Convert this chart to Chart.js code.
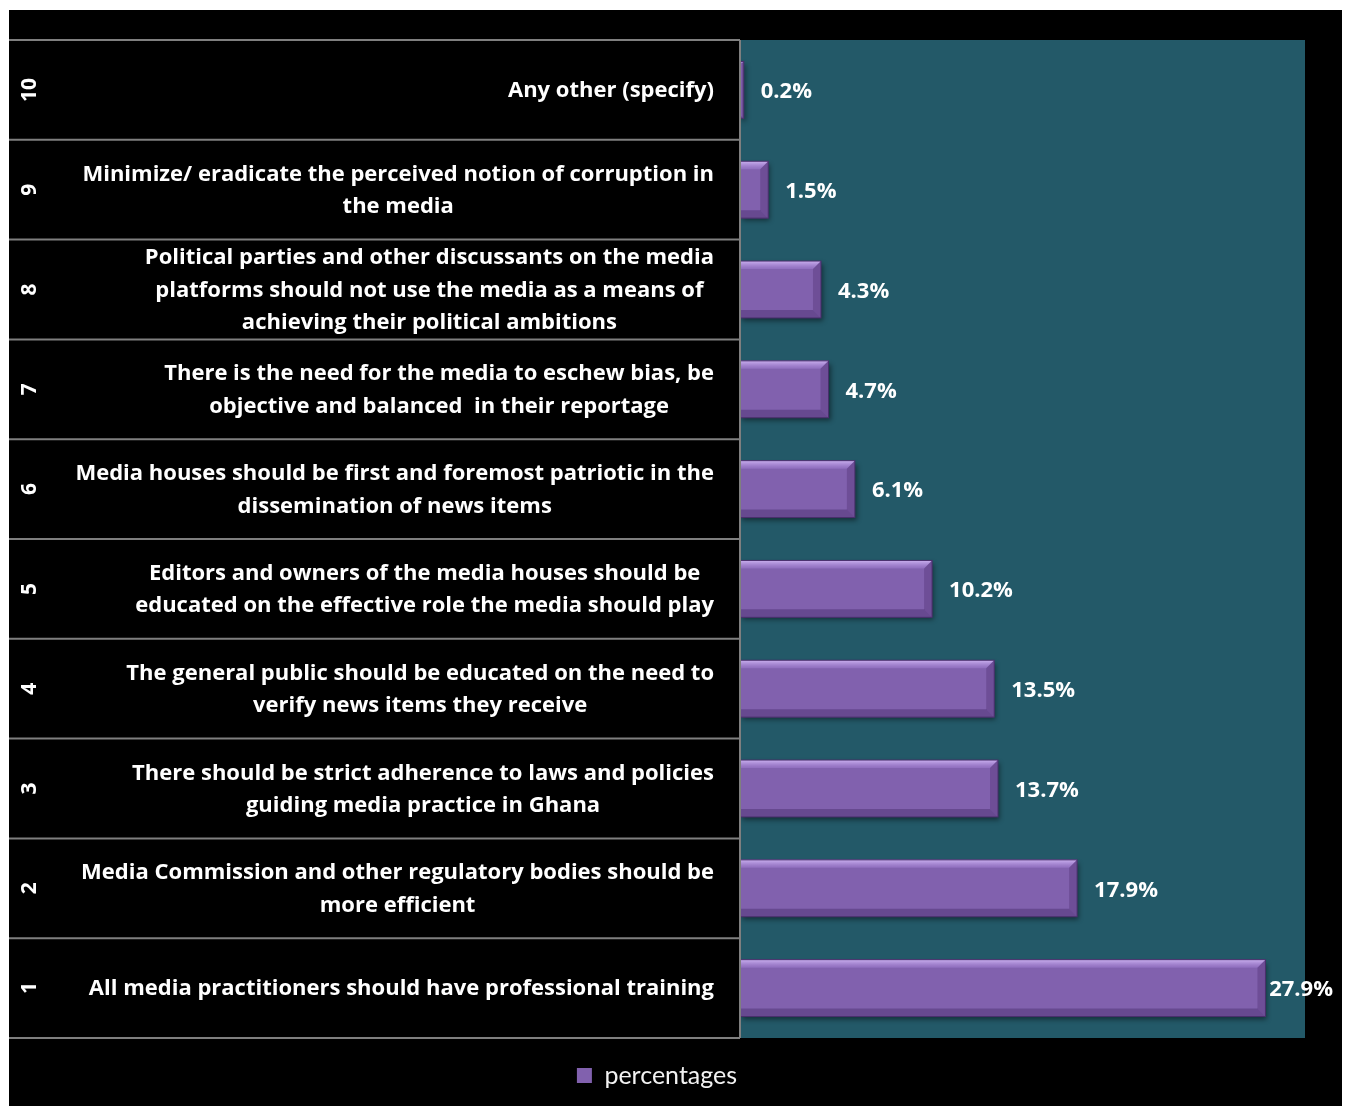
<!DOCTYPE html>
<html>
<head>
<meta charset="utf-8">
<title>percentages</title>
<script src="https://cdn.jsdelivr.net/npm/chart.js@4/dist/chart.umd.min.js"></script>
<style>
  html, body { margin: 0; padding: 0; background: #ffffff; }
  #wrap { position: absolute; left: 9px; top: 10px; width: 1333px; height: 1096px; background: #000000; }
</style>
</head>
<body>
<div id="wrap"><canvas id="suggestChart"></canvas></div>
<script>
// item numbers, bottom to top
const itemNos = ['1', '2', '3', '4', '5', '6', '7', '8', '9', '10'];
// suggestion text, one array entry per printed line
const suggestions = [
  ['All media practitioners should have professional training'],
  ['Media Commission and other regulatory bodies should be', 'more efficient'],
  ['There should be strict adherence to laws and policies', 'guiding media practice in Ghana'],
  ['The general public should be educated on the need to', 'verify news items they receive'],
  ['Editors and owners of the media houses should be', 'educated on the effective role the media should play'],
  ['Media houses should be first and foremost patriotic in the', 'dissemination of news items'],
  ['There is the need for the media to eschew bias, be', 'objective and balanced  in their reportage'],
  ['Political parties and other discussants on the media', 'platforms should not use the media as a means of', 'achieving their political ambitions'],
  ['Minimize/ eradicate the perceived notion of corruption in', 'the media'],
  ['Any other (specify)']
];
const percentages = [27.9, 17.9, 13.7, 13.5, 10.2, 6.1, 4.7, 4.3, 1.5, 0.2];

const FONT = '"Open Sans", "DejaVu Sans", sans-serif';

// teal plot background + label table lines + item numbers
const tablePlugin = {
  id: 'tablePlugin',
  beforeDraw(chart) {
    const { ctx, chartArea: a } = chart;
    ctx.save();
    ctx.fillStyle = '#235968';
    ctx.fillRect(a.left, a.top, a.right - a.left, a.bottom - a.top);
    ctx.restore();
  },
  afterDraw(chart) {
    const { ctx, chartArea: a, scales: { y } } = chart;
    ctx.save();
    // row separators in the label table
    ctx.strokeStyle = '#7f7f7f';
    ctx.lineWidth = 2;
    const step = Math.abs(y.getPixelForValue(0) - y.getPixelForValue(1));
    for (let i = 0; i < itemNos.length; i++) {
      const yy = y.getPixelForValue(i) - step / 2;
      ctx.beginPath(); ctx.moveTo(0, yy); ctx.lineTo(a.left, yy); ctx.stroke();
    }
    ctx.beginPath(); ctx.moveTo(0, a.bottom); ctx.lineTo(a.left, a.bottom); ctx.stroke();
    ctx.beginPath(); ctx.moveTo(a.left, a.top); ctx.lineTo(a.left, a.bottom); ctx.stroke();

    // suggestion text, lines centred in a right-aligned block
    ctx.fillStyle = '#ffffff';
    ctx.font = 'bold 22px ' + FONT;
    ctx.textBaseline = 'middle';
    ctx.textAlign = 'center';
    const lh = 32.5;
    suggestions.forEach((lines, i) => {
      const w = Math.max(...lines.map(l => ctx.measureText(l).width));
      const cx = a.left - 26 - w / 2;
      const cy = y.getPixelForValue(i) + 1;
      lines.forEach((l, k) => {
        ctx.fillText(l, cx, cy + (k - (lines.length - 1) / 2) * lh);
      });
    });

    // item numbers, rotated
    ctx.font = 'bold 21px ' + FONT;
    itemNos.forEach((n, i) => {
      ctx.save();
      ctx.translate(21, y.getPixelForValue(i));
      ctx.rotate(-Math.PI / 2);
      ctx.fillText(n, 0, 0);
      ctx.restore();
    });
    ctx.restore();
  }
};

// shadow under bars, bevel on top of them, value labels
const barPlugin = {
  id: 'barPlugin',
  beforeDatasetsDraw(chart) {
    const ctx = chart.ctx;
    ctx.save();
    ctx.shadowColor = 'rgba(0,0,0,0.45)';
    ctx.shadowBlur = 5;
    ctx.shadowOffsetX = 2;
    ctx.shadowOffsetY = 3;
  },
  afterDatasetsDraw(chart) {
    const ctx = chart.ctx;
    ctx.restore();
    ctx.save();
    const meta = chart.getDatasetMeta(0);
    meta.data.forEach((bar, i) => {
      const x0 = bar.base, x1 = bar.x;
      const y0 = bar.y - bar.height / 2, y1 = bar.y + bar.height / 2;
      const b = Math.min(8, (x1 - x0) / 2);
      const poly = (pts, fill) => {
        ctx.beginPath();
        ctx.moveTo(pts[0][0], pts[0][1]);
        pts.slice(1).forEach(p => ctx.lineTo(p[0], p[1]));
        ctx.closePath();
        ctx.fillStyle = fill;
        ctx.fill();
      };
      const top = ctx.createLinearGradient(0, y0, 0, y0 + b);
      top.addColorStop(0, 'rgba(215,190,250,0.85)');
      top.addColorStop(1, 'rgba(170,135,220,0.35)');
      poly([[x0, y0], [x1, y0], [x1 - b, y0 + b], [x0, y0 + b]], top);
      poly([[x0, y1], [x1, y1], [x1 - b, y1 - b], [x0, y1 - b]], 'rgba(55,28,90,0.35)');
      poly([[x1, y0], [x1, y1], [x1 - b, y1 - b], [x1 - b, y0 + b]], 'rgba(60,30,95,0.28)');
      ctx.strokeStyle = '#4a2f6c';
      ctx.lineWidth = 1;
      ctx.strokeRect(x0, y0, x1 - x0, y1 - y0);

      // value label, pulled back inside the canvas when it would overflow
      ctx.fillStyle = '#ffffff';
      ctx.font = 'bold 22px ' + FONT;
      ctx.textAlign = 'left';
      ctx.textBaseline = 'middle';
      const txt = percentages[i].toFixed(1) + '%';
      const tx = Math.min(x1 + 17, chart.width - 9 - ctx.measureText(txt).width);
      ctx.fillText(txt, Math.max(tx, x1 + 2), bar.y + 2);
    });
    ctx.restore();
  }
};

const ChartS = document.getElementById('suggestChart');
const suggestChart = new Chart(ChartS, {
  type: 'bar',
  data: {
    labels: itemNos,
    datasets: [{
      label: 'percentages',
      data: percentages,
      backgroundColor: '#8161ae',
      borderColor: '#4a2f6c',
      borderWidth: 0,
      barPercentage: 0.57,
      categoryPercentage: 1
    }]
  },
  options: {
    indexAxis: 'y',
    responsive: true,
    maintainAspectRatio: false,
    animation: false,
    layout: { padding: { top: 30, right: 37, left: 0, bottom: 8 } },
    scales: {
      x: { display: false, min: 0, max: 30 },
      y: {
        reverse: true,
        grid: { display: false },
        border: { display: false },
        ticks: { display: false },
        afterFit(scale) { scale.width = 731; }
      }
    },
    plugins: {
      legend: {
        display: true,
        position: 'bottom',
        labels: {
          color: '#f2f2f2',
          boxWidth: 15,
          boxHeight: 15,
          padding: 25,
          font: { family: 'Lato, "Open Sans", sans-serif', size: 25 }
        }
      },
      tooltip: { enabled: false },
      title: { display: false }
    }
  },
  plugins: [tablePlugin, barPlugin]
});
</script>
</body>
</html>
